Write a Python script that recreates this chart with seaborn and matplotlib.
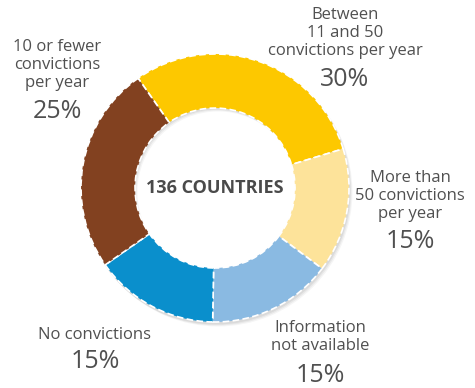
import matplotlib
matplotlib.use("Agg")
import matplotlib.pyplot as plt
import seaborn as sns
from matplotlib.patches import Wedge

sns.set_theme(style="white")
plt.rcParams['font.family'] = ['Open Sans', 'DejaVu Sans']

categories = ["Between\n11 and 50\nconvictions per year",
              "More than\n50 convictions\nper year",
              "Information\nnot available",
              "No convictions",
              "10 or fewer\nconvictions\nper year"]
values = [30, 15, 15, 15, 25]
pct_labels = ["30%", "15%", "15%", "15%", "25%"]
colors = ["#FDC800", "#FDE39A", "#8ABAE2", "#0A8FCC", "#824120"]
center_label = "136 COUNTRIES"

W, H = 475, 388
fig = plt.figure(figsize=(W / 100, H / 100), dpi=100)
ax = fig.add_axes([0, 0, 1, 1])
ax.set_xlim(0, W)
ax.set_ylim(0, H)
ax.set_aspect("equal")
ax.axis("off")

cx, cy = 215, H - 188
R, width = 134, 54

# soft shadow
for i, a in enumerate([0.06, 0.05, 0.04]):
    ax.add_patch(Wedge((cx + 1 + i, cy - 2 - i), R + 0.5, 0, 360, width=width,
                       facecolor="#000000", alpha=a, edgecolor="none", zorder=1))

wedges, _ = ax.pie(values, colors=colors, startangle=125, counterclock=False,
                   center=(cx, cy), radius=R, frame=True,
                   wedgeprops=dict(width=width, edgecolor="white",
                                   linewidth=1.2, linestyle=(0, (4, 2))))
for w in wedges:
    w.set_zorder(2)
ax.set_xlim(0, W)
ax.set_ylim(0, H)
ax.axis("off")

ax.text(cx, cy, center_label, ha="center", va="center", fontsize=13,
        fontweight="bold", color="#4A4A4A")

txt_color = "#505050"
# label positions (pixel centers): (x, y of text block center, y of percent)
label_pos = [(345, 33, 79), (410, 196, 242), (320, 337, 376), (95, 335, 361), (57, 65, 111)]
for cat, pct, (x, yt, yp) in zip(categories, pct_labels, label_pos):
    ax.text(x, H - yt, cat, ha="center", va="center", fontsize=12,
            color=txt_color, linespacing=1.15)
    ax.text(x, H - yp, pct, ha="center", va="center", fontsize=18,
            color=txt_color)

fig.savefig("out.png", dpi=100)
